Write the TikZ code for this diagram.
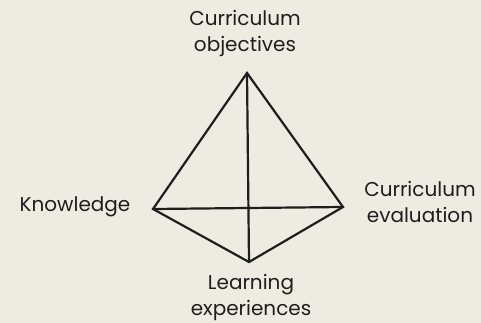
\documentclass[tikz,border=0pt]{standalone}
\usepackage{fontspec}
\setmainfont{Poppins}
\definecolor{paper}{RGB}{238,236,226}
\definecolor{ink}{RGB}{30,30,30}
\begin{document}
\begin{tikzpicture}[x=1pt,y=-1pt,
  lbl/.style={text=ink,inner sep=0pt,align=center,font=\fontsize{20}{26}\selectfont},
  edge/.style={draw=ink,line width=2.2pt,line join=miter}]
\fill[paper] (0,0) rectangle (481,323);
\useasboundingbox (0,0) rectangle (481,323);
\coordinate (A) at (247,73);
\coordinate (L) at (153,209);
\coordinate (R) at (343,207);
\coordinate (B) at (249,262);
\draw[edge] (L) -- (A) -- (R) -- (B) -- cycle;
\draw[edge] (A) -- (B);
\draw[edge] (L) -- (R);
\node[lbl] (top) at (245,33) {Curriculum\\objectives};
\node[lbl] (left) at (75,207) {Knowledge};
\node[lbl] (right) at (420,202) {Curriculum\\evaluation};
\node[lbl] (bottom) at (251,297) {Learning\\experiences};
\end{tikzpicture}
\end{document}
